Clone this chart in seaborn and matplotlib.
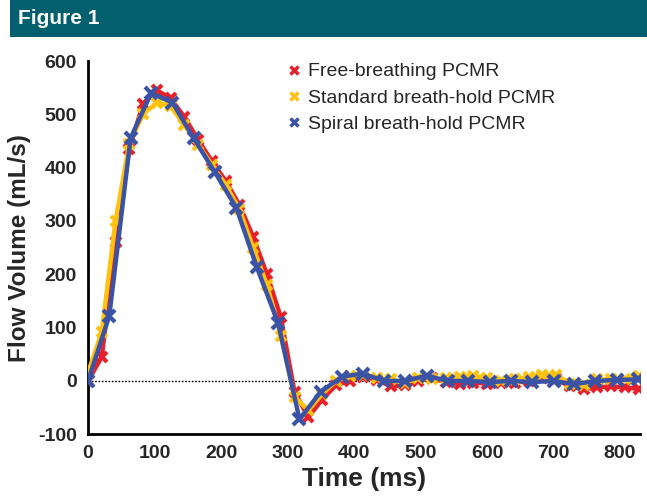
import numpy as np
import pandas as pd
import seaborn as sns
import matplotlib
matplotlib.use("Agg")
import matplotlib.pyplot as plt
from matplotlib.lines import Line2D
from matplotlib.patches import Rectangle

# ---- data ----
series_names = ["Free-breathing PCMR", "Standard breath-hold PCMR", "Spiral breath-hold PCMR"]
colors = ["#E8202A", "#FFC20E", "#3A53A4"]

t_fine = [0, 20.7, 41.4, 62.1, 82.8, 103.5, 124.2, 144.9, 165.6, 186.3, 207, 227.7,
          248.4, 269.1, 289.8, 310.5, 331.2, 351.9, 372.6, 393.3, 414, 434.7, 455.4,
          476.1, 496.8, 517.5, 538.2, 558.9, 579.6, 600.3, 621, 641.7, 662.4, 683.1,
          703.8, 724.5, 745.2, 765.9, 786.6, 807.3, 828]
free_vals = [0, 45, 260, 435, 520, 545, 530, 495, 452, 412, 375, 330, 270, 200, 120,
             -20, -68, -35, -8, 0, 8, 2, -10, -8, 0, 5, -2, -5, -3, -5, -3, -3, 0, 5,
             3, -10, -15, -12, -10, -12, -15]
standard_vals = [15, 92, 300, 445, 500, 522, 515, 480, 443, 405, 368, 322, 250, 180, 85,
                 -30, -55, -25, 0, 10, 12, 5, 3, -3, 5, 3, 5, 8, 10, 5, 0, 3, 8, 12, 12,
                 -5, -8, 3, 3, 3, 10]
t_spiral = [0, 32, 64, 95, 127, 159, 191, 223, 254, 286, 318, 350, 382, 413, 445, 477,
            509, 541, 572, 604, 636, 668, 700, 731, 763, 795, 827]
spiral_vals = [0, 122, 455, 540, 522, 455, 391, 325, 213, 108, -72, -20, 8, 14, 0, 0,
               10, 0, 0, -2, 0, -2, 0, -6, 0, 2, 3]

x_ticks = [0, 100, 200, 300, 400, 500, 600, 700, 800]
y_ticks = [-100, 0, 100, 200, 300, 400, 500, 600]

df = pd.concat([
    pd.DataFrame({"t": t_fine, "v": free_vals, "s": series_names[0]}),
    pd.DataFrame({"t": t_fine, "v": standard_vals, "s": series_names[1]}),
    pd.DataFrame({"t": t_spiral, "v": spiral_vals, "s": series_names[2]}),
])

sns.set_style("white")
plt.rcParams["font.family"] = ["Liberation Sans", "DejaVu Sans"]

fig = plt.figure(figsize=(6.47, 5.0), dpi=100)
# header band
fig.patches.append(Rectangle((10 / 647, 1 - 37 / 500), 1, 37 / 500, transform=fig.transFigure,
                             facecolor="#02606E", edgecolor="none", zorder=0))
fig.text(18 / 647, 1 - 19 / 500, "Figure 1", color="white", fontsize=15, fontweight="bold",
         va="center", ha="left")

ax = fig.add_axes([88 / 647, 1 - 434.3 / 500, 552 / 647, (434.3 - 61) / 500])

ax.axhline(0, color="black", lw=1.0, ls=(0, (1.2, 1.2)), zorder=1)

for name, c in zip(series_names, colors):
    sub = df[df["s"] == name]
    ms = 8 if name.startswith("Spiral") else 7
    sns.lineplot(data=sub, x="t", y="v", ax=ax, color=c, lw=3.2, marker="x",
                 markersize=ms, markeredgewidth=3, markeredgecolor=c, sort=False,
                 legend=False, zorder=3)

ax.set_xlim(0, 830)
ax.set_ylim(-100, 600)
ax.set_xticks(x_ticks)
ax.set_yticks(y_ticks)
tick_font = dict(fontweight="bold", fontsize=14)
ax.set_xticklabels([str(v) for v in x_ticks], **tick_font)
ax.set_yticklabels([str(v) for v in y_ticks], **tick_font)
ax.tick_params(axis="both", direction="out", length=6, width=2, color="black", pad=2)
for s in ["top", "right"]:
    ax.spines[s].set_visible(False)
for s in ["left", "bottom"]:
    ax.spines[s].set_linewidth(2)
    ax.spines[s].set_color("black")

ax.set_xlabel("Time (ms)", fontsize=19, fontweight="bold", labelpad=3)
ax.set_ylabel("Flow Volume (mL/s)", fontsize=17.5, fontweight="bold", labelpad=5)

handles = [Line2D([], [], ls="none", marker="x", markersize=6, markeredgewidth=2.5, color=c)
           for c in colors]
ax.legend(handles, series_names, loc="upper left", bbox_to_anchor=(0.345, 1.016), frameon=False,
          fontsize=14, handletextpad=0.3, labelspacing=0.45, handlelength=0.8, borderaxespad=0)

fig.savefig("out.png", dpi=100, facecolor="white")
